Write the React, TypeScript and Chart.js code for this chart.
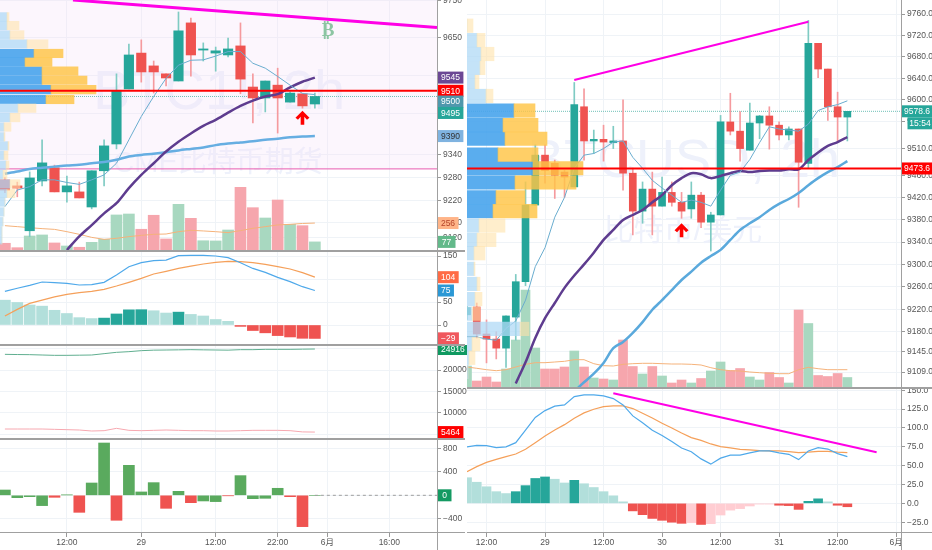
import React, { useEffect, useRef } from "react";
import { Chart, registerables } from "chart.js";

Chart.register(...registerables);

// ---- left chart: BTC1!, 2h
const leftOpen = [9274, 9258, 9139, 9271, 9306, 9242, 9242, 9202, 9298, 9369, 9515, 9610, 9576, 9555, 9536, 9690, 9618, 9610, 9605, 9629, 9520, 9491, 9525, 9480, 9502, 9475];
const leftHigh = [9280, 9268, 9295, 9380, 9313, 9284, 9268, 9298, 9380, 9555, 9634, 9645, 9589, 9555, 9719, 9703, 9637, 9626, 9650, 9690, 9555, 9536, 9570, 9507, 9502, 9504];
const leftLow = [9240, 9229, 9123, 9258, 9242, 9215, 9226, 9197, 9258, 9356, 9515, 9533, 9504, 9523, 9536, 9549, 9589, 9562, 9600, 9502, 9425, 9454, 9398, 9480, 9464, 9464];
const leftClose = [9247, 9252, 9279, 9319, 9242, 9258, 9226, 9298, 9364, 9510, 9605, 9560, 9560, 9544, 9669, 9605, 9621, 9616, 9621, 9541, 9491, 9536, 9491, 9504, 9470, 9495];
const leftMaFast = [9203, 9247, 9256, 9274, 9274, 9267, 9262, 9274, 9287, 9318, 9380, 9442, 9495, 9543, 9578, 9591, 9592, 9602, 9614, 9614, 9583, 9570, 9548, 9525, 9503, 9500];
const leftMaMid = [9088, 9124, 9154, 9185, 9212, 9252, 9287, 9318, 9349, 9375, 9397, 9417, 9433, 9452, 9470, 9484, 9495, 9501, 9519, 9534, 9545]; // from candle 5
const leftMaSlow = [9290, 9296, 9303, 9306, 9309, 9312, 9314, 9318, 9321, 9327, 9336, 9340, 9343, 9347, 9352, 9356, 9360, 9366, 9370, 9373, 9376, 9380, 9383, 9387, 9389, 9390];
const leftVolume = [64, 22, 133, 143, 67, 38, 26, 73, 102, 333, 342, 197, 330, 105, 434, 301, 88, 86, 190, 596, 402, 304, 475, 244, 231, 77];
const leftVolumeMa = [231, 222, 212, 203, 196, 174, 149, 120, 101, 111, 127, 139, 149, 152, 174, 187, 181, 174, 165, 184, 206, 222, 238, 244, 252, 256];
const leftProfilePrice = [9706, 9683, 9658, 9634, 9609, 9586, 9562, 9538, 9513, 9487, 9464, 9439, 9414, 9388, 9364, 9339, 9313, 9288, 9263, 9238, 9215, 9189, 9163, 9139, 9115];
const leftProfileBuy = [7, 7, 10, 27, 34, 25, 42, 42, 51, 46, 18, 10, 4, 4, 8, 4, 6, 3, 10, 7, 5, 4, 3, 2, 2];
const leftProfileSell = [2, 12, 14, 21, 29, 27, 36, 45, 45, 28, 18, 10, 7, 1, 1, 4, 3, 4, 10, 8, 0, 0, 0, 0, 0];
const leftMacd = [73, 80, 86, 93.5, 92, 90.6, 87, 87.7, 92.8, 108.7, 126.8, 135.5, 140, 141, 150.7, 151.4, 151.4, 150, 146.4, 135.5, 123, 114.5, 103.6, 94.2, 83.3, 75];
const leftSignal = [19.6, 34, 47, 54, 61, 66.7, 70.3, 73, 77.5, 84.8, 92.8, 101.4, 110.9, 116.7, 123, 128, 132.6, 136, 138.4, 137.7, 135.5, 132, 126.8, 121.7, 113.8, 104];
const leftHist = [54, 49, 43.5, 41, 32, 25, 16, 14, 15, 24, 33, 33.3, 31, 26, 28, 23, 19.6, 12, 8, -3, -12, -17, -23, -26, -28.9, -29.2];
const leftLong = [23669, 23620, 23591, 23513, 23435, 23435, 23470, 23513, 23825, 24138, 24294, 24528, 24650, 24684, 24720, 24762, 24720, 24684, 24650, 24762, 24762, 24840, 24840, 24840, 24880, 24916];
const leftShort = [6182, 6182, 6182, 6182, 6104, 6026, 5947, 5713, 5791, 6337, 5869, 5791, 5869, 5947, 5869, 5791, 5791, 5713, 5713, 5791, 5869, 5869, 5869, 5791, 5500, 5464];
const leftDelta = [90, -40, -23, -175, -34, 6, -289, 209, 888, -424, 509, 57, 215, -221, 68, -125, -96, -107, -6, 334, -57, -51, 119, -23, -532, 0];
const leftDeltaUp = [1, 1, 1, 1, 0, 1, 0, 1, 1, 0, 1, 1, 1, 0, 1, 0, 1, 1, 0, 1, 1, 1, 1, 0, 0, 1];
const leftPriceTicks = [9750, 9650, 9550, 9450, 9340, 9280, 9220, 9160, 9120];
const leftMacdTicks = [150, 100, 50, 0];
const leftPositionTicks = [25000, 20000, 15000, 10000, 5000];
const leftDeltaTicks = [800, 400, 0, -400];
const leftTimeTicks = [5, 11, 17, 22, 26, 31];
const leftTimeLabels = ["12:00", "29", "12:00", "22:00", "6月", "16:00"];

// ---- right chart: BTCUSD, 2h
const rightOpen = [9210, 9224, 9176, 9167, 9151, 9206, 9269, 9407, 9498, 9483, 9467, 9440, 9587, 9524, 9527, 9521, 9524, 9465, 9396, 9436, 9405, 9430, 9412, 9400, 9425, 9376, 9389, 9559, 9542, 9507, 9557, 9570, 9553, 9535, 9546, 9483, 9705, 9657, 9587, 9568];
const rightHigh = [9225, 9231, 9201, 9180, 9208, 9282, 9449, 9517, 9517, 9489, 9470, 9632, 9620, 9544, 9553, 9551, 9600, 9474, 9449, 9467, 9458, 9449, 9430, 9449, 9430, 9394, 9571, 9612, 9578, 9594, 9571, 9587, 9559, 9550, 9546, 9748, 9705, 9657, 9614, 9578.6];
const rightLow = [9202, 9169, 9125, 9132, 9117, 9165, 9262, 9407, 9447, 9419, 9421, 9440, 9489, 9501, 9487, 9510, 9434, 9353, 9374, 9353, 9405, 9405, 9383, 9383, 9366, 9324, 9389, 9535, 9487, 9507, 9528, 9509, 9526, 9526, 9403, 9474, 9641, 9562, 9524, 9524];
const rightClose = [9223, 9176, 9167, 9151, 9208, 9269, 9407, 9498, 9470, 9461, 9458, 9591, 9524, 9527, 9522, 9524, 9465, 9396, 9436, 9405, 9430, 9412, 9396, 9425, 9376, 9389, 9559, 9542, 9510, 9557, 9570, 9553, 9535, 9546, 9485, 9705, 9657, 9587, 9568, 9578.6];
const rightMaFast = [9171, 9171, 9167, 9165, 9186, 9199, 9236, 9296, 9330, 9385, 9421, 9474, 9498, 9501, 9510, 9522, 9524, 9494, 9474, 9452, 9438, 9425, 9412, 9416, 9412, 9405, 9434, 9461, 9467, 9490, 9521, 9550, 9546, 9544, 9542, 9555, 9580, 9587, 9591, 9598];
const rightMaMid = [9089, 9126, 9169, 9204, 9231, 9258, 9280, 9300, 9321, 9344, 9362, 9380, 9389, 9398, 9412, 9425, 9443, 9456, 9465, 9463, 9456, 9460, 9465, 9469, 9467, 9469, 9470, 9470, 9472, 9472, 9489, 9503, 9515, 9522, 9531]; // from candle 5
const rightMaSlow = [9075, 9091, 9106, 9125, 9151, 9162, 9178, 9197, 9219, 9236, 9254, 9272, 9287, 9303, 9315, 9326, 9344, 9362, 9374, 9385, 9398, 9409, 9418, 9429, 9443, 9456, 9467, 9476, 9487]; // from candle 11
const rightVolume = [210, 60, 100, 50, 180, 470, 970, 390, 180, 180, 200, 360, 200, 90, 80, 70, 470, 205, 130, 205, 110, 40, 70, 40, 85, 160, 250, 165, 185, 100, 70, 145, 95, 40, 770, 635, 115, 105, 135, 95];
const rightVolumeMa = [200, 187, 173, 163, 173, 200, 227, 243, 243, 250, 257, 273, 273, 233, 213, 210, 227, 233, 237, 237, 233, 230, 230, 227, 220, 193, 173, 163, 160, 150, 143, 137, 133, 133, 173, 197, 183, 173, 173, 173];
const rightProfilePrice = [9738, 9711, 9685, 9659, 9633, 9607, 9580, 9553, 9528, 9499, 9474, 9448, 9421, 9396, 9370, 9344, 9320, 9292, 9265, 9238, 9212, 9185, 9158, 9134, 9109];
const rightProfileBuy = [0, 10, 14, 13, 8, 19, 47, 36, 38, 31, 66, 48, 29, 26, 12, 10, 7, 7, 10, 8, 5, 53, 5, 2, 1];
const rightProfileSell = [6, 8, 13, 5, 4, 7, 21, 35, 42, 40, 50, 61, 29, 44, 26, 19, 11, 1, 3, 7, 8, 9, 8, 6, 0];
const rightMacd = [75, 77, 76.5, 74, 75, 80.5, 97, 114, 123, 129, 130.5, 141.6, 144, 144, 142.5, 139, 130.5, 116, 107, 97, 90, 82, 73.5, 68.5, 59, 52, 60, 64, 64, 67, 69.5, 69.5, 67, 65, 58, 69.5, 74, 72, 66, 62];
const rightSignal = [42, 48.7, 54.4, 58.4, 62, 65.5, 71.7, 80.5, 89.4, 97.3, 104.4, 112.8, 120, 124.8, 128.3, 129.2, 129.2, 125.7, 119.5, 113.3, 106.2, 100, 93.4, 87.2, 83.6, 78.8, 75.2, 73.5, 71.7, 70.8, 70, 69.5, 69.5, 68.6, 67.3, 68, 69, 69, 68, 67.3];
const rightHist = [34, 28, 22, 15.5, 13, 15.5, 23.5, 33, 35, 32, 27, 30.5, 26, 21, 15.5, 10, 2, -10, -15, -20, -22.5, -25, -26.5, -25.7, -28, -27, -15.5, -9, -7, -3.5, -1, -1, -2.5, -3, -8, 2.7, 6, 2, -2.5, -4.5];
const rightPriceTicks = [9760, 9720, 9680, 9640, 9600, 9560, 9510, 9460, 9420, 9380, 9340, 9300, 9260, 9220, 9180, 9145, 9109];
const rightMacdTicks = [150, 125, 100, 75, 50, 25, 0, -25];
const rightTimeTicks = [2, 8, 14, 20, 26, 32, 38, 44];
const rightTimeLabels = ["12:00", "29", "12:00", "30", "12:00", "31", "12:00", "6月"];

const TEAL = "#26a69a";
const RED = "#ef5350";
const GRID = "#eff3f7";
const TEXT = "#555";
const FONT = '"Liberation Sans", "Noto Sans CJK SC", sans-serif';
const LEFT_X = { min: -0.395, max: 34.85 };
const RIGHT_X = { min: 0, max: 44.5 };

const series = (values: number[], start = 0) => values.map((y, i) => ({ x: i + start, y }));
const minus = (v: number | string) => String(v).replace("-", "−");

function xAxis(range: any, ticks: number[], labels: string[] | null) {
  return {
    type: "linear",
    offset: false,
    min: range.min,
    max: range.max,
    afterBuildTicks: (s: any) => {
      s.ticks = ticks.map((value) => ({ value }));
    },
    afterFit: (s: any) => {
      s.height = labels ? 18 : 0;
      s.paddingLeft = 0;
      s.paddingRight = 0;
    },
    grid: { offset: false, color: GRID, drawTicks: !!labels, tickLength: 5, tickColor: "#999" },
    border: { display: false },
    ticks: {
      display: !!labels,
      autoSkip: false,
      maxRotation: 0,
      padding: 1,
      font: { family: FONT, size: 8.5 },
      color: TEXT,
      callback: (v: number) => (labels ? labels[ticks.indexOf(v)] : ""),
    },
  };
}

function yAxis(ticks: number[], min: number, max: number, width: number, fmt: (v: number) => string, type = "linear") {
  return {
    type,
    position: "right",
    offset: false,
    min,
    max,
    afterBuildTicks: (s: any) => {
      s.ticks = ticks.map((value) => ({ value }));
    },
    afterFit: (s: any) => {
      s.width = width;
      s.paddingTop = 0;
      s.paddingBottom = 0;
    },
    grid: { offset: false, color: GRID, tickLength: 4, tickColor: "#999" },
    border: { display: false },
    ticks: {
      autoSkip: false,
      padding: 2,
      font: { family: FONT, size: 8.5 },
      color: TEXT,
      callback: fmt,
    },
  };
}

const line = (data: any[], color: string, width: number, extra: any = {}) => ({
  type: "line",
  data,
  borderColor: color,
  borderWidth: width,
  pointRadius: 0,
  tension: 0,
  fill: false,
  ...extra,
});

const flat = (range: any, value: number) => [
  { x: range.min, y: value },
  { x: range.max, y: value },
];

function candles(open: number[], high: number[], low: number[], close: number[], width: number) {
  const up = close.map((c, i) => c >= open[i]);
  return [
    {
      type: "bar",
      grouped: false,
      barThickness: width,
      data: open.map((o, i) => ({ x: i, y: [o, close[i]] })),
      backgroundColor: up.map((u) => (u ? TEAL : RED)),
    },
    {
      type: "bar",
      grouped: false,
      barThickness: 1,
      data: high.map((h, i) => ({ x: i, y: [low[i], h] })),
      backgroundColor: up.map((u) => (u ? "#7fcbc3" : "#f59a9e")),
    },
  ];
}

function profile(price: number[], buy: number[], sell: number[], first: number, last: number, thickness: number) {
  const inArea = (i: number) => i >= first && i <= last;
  return [
    {
      type: "bar",
      indexAxis: "y",
      xAxisID: "prof",
      grouped: false,
      barThickness: thickness,
      data: price.map((y, i) => ({ y, x: [buy[i], buy[i] + sell[i]] })),
      backgroundColor: price.map((_, i) => (inArea(i) ? "rgba(255,196,70,.82)" : "rgba(255,226,170,.6)")),
    },
    {
      type: "bar",
      indexAxis: "y",
      xAxisID: "prof",
      grouped: false,
      barThickness: thickness,
      data: price.map((y, i) => ({ y, x: [0, buy[i]] })),
      backgroundColor: price.map((_, i) => (inArea(i) ? "rgba(72,164,236,.9)" : "rgba(176,217,246,.75)")),
    },
  ];
}

const volumeBars = (volume: number[], up: boolean[], width: number) => ({
  type: "bar",
  yAxisID: "vol",
  grouped: false,
  barThickness: width,
  data: series(volume),
  backgroundColor: up.map((u) => (u ? "#a8d8c0" : "#f6a6ad")),
});

function histBars(hist: number[], width: number) {
  const colors = hist.map((h, i) => {
    const prev = i > 0 ? hist[i - 1] : h;
    if (h >= 0) return h > prev ? TEAL : "#b2dfdb";
    return h < prev ? RED : "#ffcdd2";
  });
  return { type: "bar", grouped: false, barThickness: width, data: series(hist), backgroundColor: colors };
}

// last-value tags, watermark and small marks
function decor(spec: any) {
  return {
    id: "decor",
    beforeDatasetsDraw(chart: any) {
      const { ctx } = chart;
      ctx.save();
      ctx.textAlign = "center";
      ctx.textBaseline = "middle";
      (spec.water || []).forEach((w: any) => {
        ctx.font = `${w.size}px ${FONT}`;
        ctx.fillStyle = "#eef1fb";
        ctx.fillText(w.text, w.x, w.y);
      });
      ctx.restore();
    },
    afterDraw(chart: any) {
      const { ctx, chartArea, scales } = chart;
      ctx.save();
      ctx.textBaseline = "middle";
      (spec.arrows || []).forEach((a: any) => {
        const x = scales.x.getPixelForValue(a.idx);
        const y = scales.y.getPixelForValue(a.price);
        ctx.fillStyle = "#ff0000";
        ctx.beginPath();
        ctx.moveTo(x, y);
        ctx.lineTo(x + 7, y + 7);
        ctx.lineTo(x + 4.5, y + 9);
        ctx.lineTo(x + 1.8, y + 6);
        ctx.lineTo(x + 1.8, y + 14);
        ctx.lineTo(x - 1.8, y + 14);
        ctx.lineTo(x - 1.8, y + 6);
        ctx.lineTo(x - 4.5, y + 9);
        ctx.lineTo(x - 7, y + 7);
        ctx.closePath();
        ctx.fill();
      });
      (spec.glyphs || []).forEach((g: any) => {
        ctx.font = 'bold 19px "DejaVu Sans"';
        ctx.textAlign = "center";
        ctx.fillStyle = "#8cc5a2";
        ctx.fillText(g.text, scales.x.getPixelForValue(g.idx), scales.y.getPixelForValue(g.price));
      });
      ctx.font = `8.5px ${FONT}`;
      ctx.textAlign = "center";
      (spec.tags || []).forEach((t: any) => {
        const y = scales[t.axis || "y"].getPixelForValue(t.value) + (t.dy || 0);
        const w = t.width || ctx.measureText(t.text).width + 7;
        const x = chartArea.right + 0.5 + (t.indent || 0);
        ctx.fillStyle = t.bg;
        ctx.fillRect(x, y - 6, w, 12);
        ctx.fillStyle = t.color || "#fff";
        ctx.fillText(t.text, x + w / 2, y + 0.5);
      });
      ctx.restore();
    },
  };
}

function baseOptions(scales: any) {
  return {
    responsive: false,
    animation: false,
    events: [],
    layout: { padding: 0 },
    plugins: { legend: { display: false }, tooltip: { enabled: false } },
    scales,
  };
}

const profAxis = (max: number) => ({
  type: "linear",
  axis: "x",
  position: "bottom",
  offset: false,
  display: false,
  min: 0,
  max,
});

const leftUp = leftClose.map((c, i) => c >= leftOpen[i]);
const rightUp = rightClose.map((c, i) => c >= rightOpen[i]);
const SMOOTH = { tension: 0.3 };

const leftPriceConfig = () => ({
  type: "bar",
  data: {
    datasets: [
      line(flat(LEFT_X, 9510), "#ff0000", 2),
      ...profile(leftProfilePrice, leftProfileBuy, leftProfileSell, 4, 9, 8.5),
      line([{ x: 5.49, y: 9750.7 }, { x: 34.85, y: 9678 }], "#ff00e6", 3),
      line(series(leftMaFast), "#6aadcf", 1),
      line(series(leftMaMid, 5), "#5e3c8f", 2.5, SMOOTH),
      line(series(leftMaSlow), "#66aee2", 2.5, SMOOTH),
      ...candles(leftOpen, leftHigh, leftLow, leftClose, 9.5),
      line(series(leftVolumeMa), "#f5b27a", 1, { yAxisID: "vol" }),
      volumeBars(leftVolume, leftUp, 11),
      line(flat(LEFT_X, 9495), "#6fc0b8", 1, { borderDash: [1, 1] }),
      line(flat(LEFT_X, 9303), "#e85cb0", 1, { fill: "end", backgroundColor: "rgba(244,226,250,.3)" }),
    ],
  },
  options: baseOptions({
    x: xAxis(LEFT_X, leftTimeTicks, null),
    y: yAxis(leftPriceTicks, 9088, 9750.7, 30, (v) => String(v)),
    vol: { axis: "y", display: false, min: 0, max: 2375 },
    prof: profAxis(437),
  }),
  plugins: [
    decor({
      water: [
        { text: "BTC1!, 2h", x: 219, y: 94, size: 56 },
        { text: "CME比特币期货", x: 218, y: 164, size: 29 },
      ],
      arrows: [{ idx: 24, price: 9457 }],
      glyphs: [{ text: "₿", idx: 26.06, price: 9669 }],
      tags: [
        { value: 9545, text: "9545", bg: "#6b4794" },
        { value: 9510, text: "9510", bg: "#ff0000" },
        { value: 9500, text: "9500", bg: "#4f98ad", dy: 7 },
        { value: 9495, text: "9495", bg: TEAL, dy: 16.5 },
        { value: 9390, text: "9390", bg: "#7fb3e0", color: "#333" },
        { axis: "vol", value: 256, text: "256", bg: "#ffb488", color: "#b5442b", width: 21 },
        { axis: "vol", value: 77, text: "77", bg: "#63b98a", width: 18 },
      ],
    }),
  ],
});

const leftMacdConfig = () => ({
  type: "bar",
  data: {
    datasets: [
      line(series(leftMacd), "#4fa9ea", 1.2),
      line(series(leftSignal), "#f5a05a", 1.2),
      histBars(leftHist, 11),
    ],
  },
  options: baseOptions({
    x: xAxis(LEFT_X, leftTimeTicks, null),
    y: yAxis(leftMacdTicks, -41.3, 160.9, 30, minus),
  }),
  plugins: [
    decor({
      tags: [
        { value: 104, text: "104", bg: "#ff6b45" },
        { value: 75, text: "75", bg: "#2b98d5" },
        { value: -29, text: "−29", bg: "#f0575d" },
      ],
    }),
  ],
});

const leftPositionConfig = () => ({
  type: "line",
  data: {
    datasets: [line(series(leftLong), "#5fae8f", 1), line(series(leftShort), "#f7a8b0", 1)],
  },
  options: baseOptions({
    x: xAxis(LEFT_X, leftTimeTicks, null),
    y: yAxis(leftPositionTicks, 4075, 25855, 30, (v) => String(v)),
  }),
  plugins: [
    decor({
      tags: [
        { value: 24916, text: "24916", bg: "#0f9960" },
        { value: 5464, text: "5464", bg: "#ff0000" },
      ],
    }),
  ],
});

const leftDeltaConfig = () => ({
  type: "bar",
  data: {
    datasets: [
      line([{ x: 25, y: 0 }, { x: LEFT_X.max, y: 0 }], "#9e9e9e", 1, { borderDash: [3, 3] }),
      {
        type: "bar",
        grouped: false,
        barThickness: 11,
        data: series(leftDelta),
        backgroundColor: leftDeltaUp.map((u) => (u ? "#5aaa5e" : RED)),
      },
    ],
  },
  options: baseOptions({
    x: xAxis(LEFT_X, leftTimeTicks, leftTimeLabels),
    y: yAxis(leftDeltaTicks, -623, 956, 30, minus),
  }),
  plugins: [decor({ tags: [{ value: 0, text: "0", bg: "#149a62", width: 14 }] })],
});

const rightPriceConfig = () => ({
  type: "bar",
  data: {
    datasets: [
      line(flat(RIGHT_X, 9473.6), "#ff0000", 2),
      ...profile(rightProfilePrice, rightProfileBuy, rightProfileSell, 6, 13, 13.5),
      line([{ x: 11, y: 9636.6 }, { x: 35, y: 9745.5 }], "#ff00e6", 2),
      line(series(rightMaFast), "#6aadcf", 1),
      line(series(rightMaMid, 5), "#5e3c8f", 2.5, SMOOTH),
      line(series(rightMaSlow, 11), "#5aa9dc", 2.5, SMOOTH),
      ...candles(rightOpen, rightHigh, rightLow, rightClose, 7),
      line(series(rightVolumeMa), "#f5b27a", 1, { yAxisID: "vol" }),
      volumeBars(rightVolume, rightUp, 9),
      line(flat(RIGHT_X, 9578.6), "#6fc0b8", 1, { borderDash: [1, 1] }),
    ],
  },
  options: baseOptions({
    x: xAxis(RIGHT_X, rightTimeTicks, null),
    y: yAxis(rightPriceTicks, 9082.7, 9786.4, 31, (v) => v.toFixed(1), "logarithmic"),
    vol: { axis: "y", display: false, min: 0, max: 3870 },
    prof: profAxis(434),
  }),
  plugins: [
    decor({
      water: [
        { text: "BTCUSD, 2h", x: 217, y: 162, size: 54 },
        { text: "比特币/美元", x: 216, y: 232, size: 30 },
      ],
      arrows: [{ idx: 22, price: 9374 }],
      tags: [
        { value: 9578.6, text: "9578.6", bg: TEAL, width: 31 },
        { value: 9578.6, text: "15:54", bg: TEAL, width: 25, indent: 6, dy: 12 },
        { value: 9473.6, text: "9473.6", bg: "#ff0000", width: 31 },
      ],
    }),
  ],
});

const rightMacdConfig = () => ({
  type: "bar",
  data: {
    datasets: [
      line([{ x: 15, y: 146 }, { x: 42, y: 67.7 }], "#ff00e6", 2),
      line(series(rightMacd), "#4fa9ea", 1.2),
      line(series(rightSignal), "#f5a05a", 1.2),
      histBars(rightHist, 9),
    ],
  },
  options: baseOptions({
    x: xAxis(RIGHT_X, rightTimeTicks, rightTimeLabels),
    y: yAxis(rightMacdTicks, -38, 153, 31, (v) => minus(v.toFixed(1))),
  }),
});

const Pane: React.FC<{ left: number; top: number; width: number; height: number; build: () => any }> = ({
  left,
  top,
  width,
  height,
  build,
}) => {
  const ref = useRef<HTMLCanvasElement>(null);

  useEffect(() => {
    if (!ref.current) return;
    const chart = new Chart(ref.current, build());
    return () => chart.destroy();
  }, [build]);

  return <canvas ref={ref} width={width} height={height} style={{ position: "absolute", left, top, width, height }} />;
};

const Rule: React.FC<{ left: number; top: number; width: number; height: number }> = (box) => (
  <div style={{ position: "absolute", background: "#a0a0a0", ...box }} />
);

export default function App() {
  return (
    <div style={{ position: "fixed", left: 0, top: 0, width: 932, height: 550, background: "#fff", overflow: "hidden" }}>
      <Pane left={0} top={0} width={467} height={250} build={leftPriceConfig} />
      <Pane left={0} top={251} width={467} height={93} build={leftMacdConfig} />
      <Pane left={0} top={345} width={467} height={93} build={leftPositionConfig} />
      <Pane left={0} top={439} width={467} height={111} build={leftDeltaConfig} />
      <Pane left={467} top={0} width={465} height={387} build={rightPriceConfig} />
      <Pane left={467} top={388} width={465} height={162} build={rightMacdConfig} />
      <Rule left={0} top={250} width={465} height={1.5} />
      <Rule left={0} top={344} width={465} height={1.5} />
      <Rule left={0} top={438} width={465} height={1.5} />
      <Rule left={0} top={532} width={465} height={1} />
      <Rule left={437} top={0} width={1} height={550} />
      <Rule left={467} top={387} width={465} height={1.5} />
      <Rule left={467} top={532} width={465} height={1} />
      <Rule left={901} top={0} width={1} height={550} />
    </div>
  );
}
